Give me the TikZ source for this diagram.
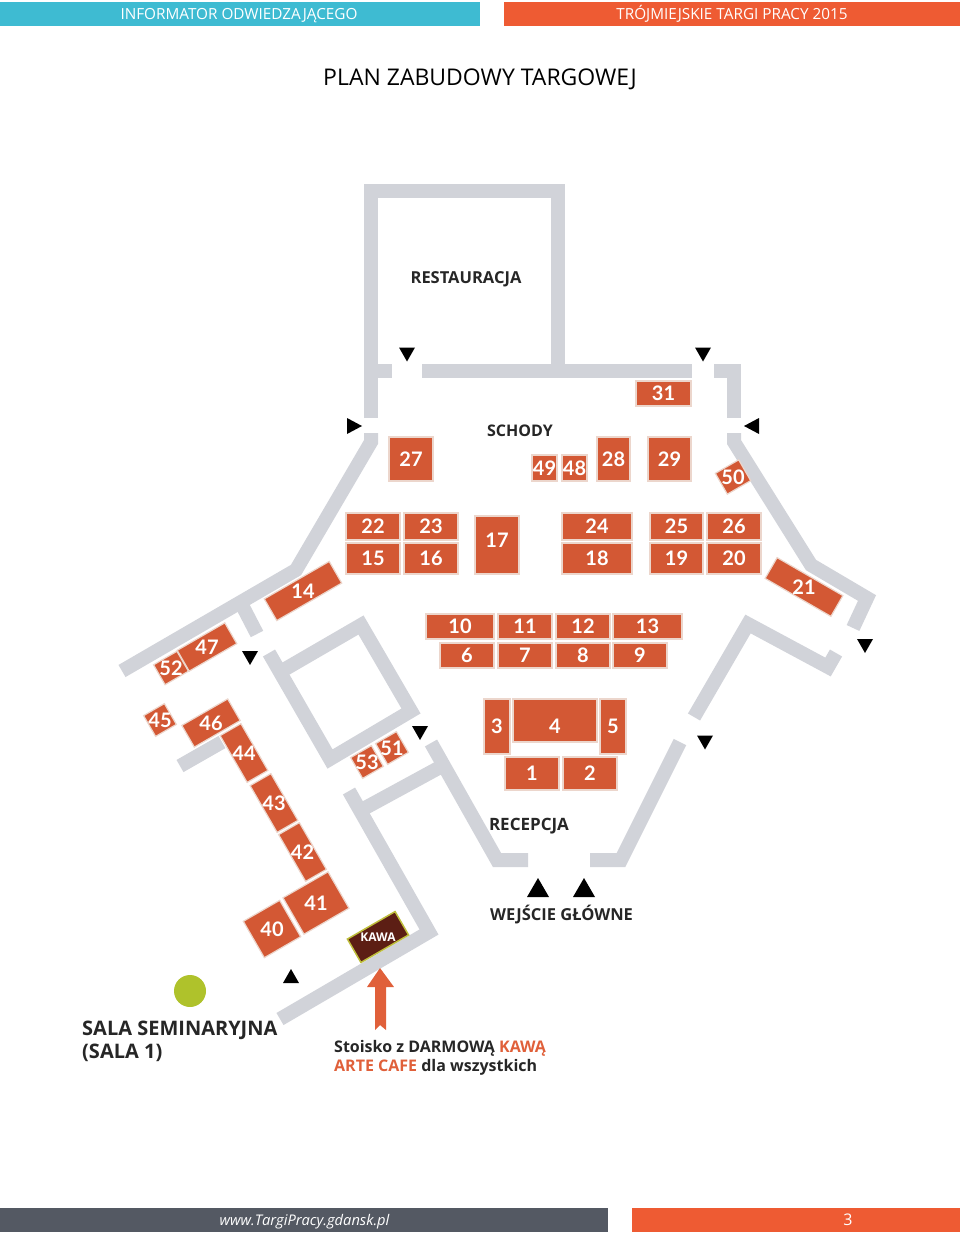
\documentclass[tikz,border=0pt]{standalone}
\usepackage{fontspec}
\setmainfont{Open Sans}
\newfontfamily\numfont{Lato}
\usetikzlibrary{arrows.meta}
\definecolor{wallgray}{RGB}{209,211,217}
\definecolor{boothred}{RGB}{211,88,52}
\definecolor{boothedge}{RGB}{236,214,204}
\definecolor{headcyan}{RGB}{62,187,210}
\definecolor{headred}{RGB}{238,91,51}
\definecolor{footgray}{RGB}{84,89,99}
\definecolor{kawabrown}{RGB}{92,30,20}
\definecolor{kawaedge}{RGB}{190,190,60}
\definecolor{dotgreen}{RGB}{175,194,43}
\definecolor{arrowred}{RGB}{224,96,58}
\tikzset{
  wall/.style={draw=wallgray,line width=14pt,line join=miter},
  booth/.style={fill=boothred,draw=boothedge,line width=1.2pt,inner sep=0pt},
  boothnum/.style={text=white,font=\numfont\fontsize{20}{20}\selectfont\bfseries,inner sep=0pt},
  place/.style={anchor=base,font=\fontsize{16.5}{16.5}\selectfont\bfseries,text=black!85,inner sep=0pt},
  headtext/.style={anchor=base,text=white,font=\fontsize{15.3}{15.3}\selectfont,inner sep=0pt},
}
\begin{document}
\begin{tikzpicture}[x=1pt,y=-1pt]
\useasboundingbox (0,0) rectangle (960,1233);
% header and footer
\fill[headcyan] (0,2) rectangle (480,26);
\fill[headred] (504,2) rectangle (960,26);
\fill[footgray] (0,1208) rectangle (608,1232);
\fill[headred] (632,1208) rectangle (960,1232);
\node[headtext] (headleft) at (239,20) {INFORMATOR ODWIEDZAJĄCEGO};
\node[headtext] (headright) at (732,20) {TRÓJMIEJSKIE TARGI PRACY 2015};
\node[headtext,font=\fontsize{14.7}{15}\selectfont\itshape] (website) at (304.5,1225) {www.TargiPracy.gdansk.pl};
\node[headtext,font=\fontsize{16}{16}\selectfont] (pagenum) at (848,1225) {3};
\node[anchor=base,inner sep=0pt,font=\fontsize{23}{23}\selectfont] (title) at (480,86) {PLAN ZABUDOWY TARGOWEJ};
% walls
\draw[wall] (371,418) -- (371,191.5) -- (558,191.5) -- (558,371);
\draw[wall] (371,371) -- (392,371);
\draw[wall] (422,371) -- (692,371);
\draw[wall] (714,371) -- (734,371) -- (734,418);
\draw[wall] (371,433) -- (371,442) -- (296,570) -- (122,671);
\draw[wall] (243,607) -- (257,634);
\draw[wall] (269,653) -- (330,759) -- (411,711) -- (361,625) -- (280,672);
\draw[wall] (180,766) -- (222,742);
\draw[wall] (349,791) -- (429,932) -- (280,1019);
\draw[wall] (365,808) -- (444,765);
\draw[wall] (431,743) -- (497,860) -- (528,860);
\draw[wall] (680,742) -- (621,860) -- (590,860);
\draw[wall] (734,433) -- (734,442) -- (811,565) -- (867,598) -- (853,628);
\draw[wall] (694,717) -- (748,624) -- (828,667) -- (836,653);
% straight booths: left/top/right/bottom/number
\foreach \l/\t/\r/\b/\n in {389/437/433/481/27,636/381/691/406/31,532/455/557/481/49,562/455/587/481/48,
  597/437/630/481/28,648/437/691/481/29,346/513/400/540/22,404/513/458/540/23,346/543/400/574/15,
  404/543/458/574/16,562/513/632/540/24,562/543/632/574/18,650/513/703/540/25,
  707/513/761/540/26,650/543/703/574/19,707/543/761/574/20,426/614/494/639/10,498/614/552/639/11,
  556/614/610/639/12,613/614/682/639/13,440/643/494/668/6,498/643/552/668/7,556/643/610/668/8,
  613/643/667/668/9,484/699/510/754/3,600/699/626/754/5,505/757/559/790/1,563/757/617/790/2}{
  \draw[booth] (\l,\t) rectangle (\r,\b);
  \node[boothnum] (booth\n) at ({(\l+\r)/2},{(\t+\b)/2}) {\n};
}
\draw[booth] (475,516) rectangle (519,574);
\node[boothnum] (booth17) at (497,540) {17};
\draw[booth] (513,699) rectangle (597,742);
\node[boothnum] (booth4) at (555,726) {4};
% turned booths: x/y/width/height/angle/number
\foreach \x/\y/\w/\h/\a/\n in {733/477/27/24/30/50,303/591/75/25/30/14,207/647/55/24/30/47,171/668/27/23/30/52,
  160/720/24/24/30/45,211/723/53/25/30/46,244/753/24/54/30/44,274/803/24/54/30/43,302.5/852/24/54/30/42,
  316/903/52/42/30/41,272/929/42/42/30/40,392/748/24/24/30/51,367/762/24/24/30/53,804/587/76/24/-30/21}{
  \node[booth,rotate=\a,minimum width=\w pt,minimum height=\h pt] (box\n) at (\x,\y) {};
  \node[boothnum] (booth\n) at (\x,\y) {\n};
}
\node[fill=kawabrown,draw=kawaedge,line width=1.5pt,rotate=30,minimum width=55pt,minimum height=27pt] (kawabox) at (378,937) {};
\node[text=white,inner sep=0pt,font=\fontsize{12}{12}\selectfont\bfseries] (kawa) at (378,937) {KAWA};
% triangles
\foreach \x/\y in {407/354.5,703/354.5,865/646,705/742.5,250/658,420/733}{
  \fill (\x-8,\y-7) -- (\x+8,\y-7) -- (\x,\y+7) -- cycle;
}
\fill (347,418) -- (362,426) -- (347,434) -- cycle;
\fill (759,418) -- (744,426) -- (759,434) -- cycle;
\fill (283,983) -- (299,983) -- (291,969) -- cycle;
\foreach \x in {538,584}{
  \fill (\x-11,897) -- (\x+11,897) -- (\x,878) -- cycle;
}
% labels
\node[place] (restauracja) at (466,283) {RESTAURACJA};
\node[place,font=\fontsize{16}{16}\selectfont\bfseries] (schody) at (520,436) {SCHODY};
\node[place,font=\fontsize{17}{17}\selectfont\bfseries] (recepcja) at (529,830) {RECEPCJA};
\node[place] (wejscie) at (561.5,920.5) {WEJŚCIE GŁÓWNE};
\fill[dotgreen] (190,991) circle (16);
\node[place,font=\fontsize{20}{23}\selectfont\bfseries,align=left,anchor=north west] (sala) at (82,1021) {SALA SEMINARYJNA\\(SALA 1)};
\node[place,font=\fontsize{16}{19}\selectfont\bfseries,align=left,anchor=north west] (stoisko) at (334,1040) {Stoisko z DARMOWĄ \textcolor{arrowred}{KAWĄ}\\\textcolor{arrowred}{ARTE CAFE} dla wszystkich};
\fill[arrowred] (380,968) -- (394,987) -- (386,987) -- (386,1030) -- (380,1025) -- (375,1030) -- (375,987) -- (367,987) -- cycle;
\end{tikzpicture}
\end{document}
